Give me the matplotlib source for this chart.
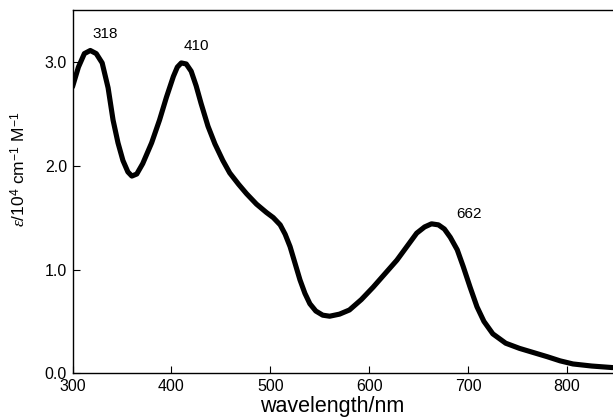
"""Absorption spectrum (epsilon vs wavelength)."""

import matplotlib
matplotlib.use("Agg")
import matplotlib.pyplot as plt

# --- data ---
wavelength_nm = [300, 306, 312, 318, 324, 330, 336, 341, 346, 351, 356, 360,
                 365, 371, 380, 388, 395, 402, 406, 410, 415, 420, 425, 430,
                 437, 444, 452, 459, 468, 476, 486, 496, 503, 510, 515, 520,
                 525, 530, 535, 540, 546, 553, 560, 570, 580, 592, 604, 616,
                 628, 638, 648, 656, 663, 670, 676, 682, 689, 695, 702, 709,
                 716, 725, 738, 752, 766, 780, 793, 806, 825, 846]
epsilon = [2.76, 2.95, 3.08, 3.11, 3.08, 2.99, 2.75, 2.44, 2.22, 2.05, 1.94, 1.90,
           1.92, 2.02, 2.22, 2.44, 2.66, 2.86, 2.95, 2.99, 2.98, 2.91, 2.77, 2.60,
           2.38, 2.21, 2.05, 1.93, 1.82, 1.73, 1.63, 1.55, 1.50, 1.43, 1.34, 1.22,
           1.06, 0.90, 0.77, 0.67, 0.60, 0.56, 0.55, 0.57, 0.61, 0.71, 0.83, 0.96,
           1.09, 1.22, 1.35, 1.41, 1.44, 1.43, 1.39, 1.31, 1.19, 1.03, 0.83, 0.64,
           0.50, 0.38, 0.29, 0.24, 0.20, 0.16, 0.12, 0.09, 0.07, 0.055]

peak_labels = ["318", "410", "662"]
peak_x = [318, 410, 662]
peak_y = [3.11, 2.99, 1.44]
# label offsets from the peak (nm, epsilon units)
label_dx = [15, 15, 39]
label_dy = [0.16, 0.16, 0.09]

FONT = ["Liberation Sans", "DejaVu Sans"]
plt.rcParams["font.family"] = FONT
plt.rcParams["mathtext.fontset"] = "custom"
plt.rcParams["mathtext.rm"] = "Liberation Sans"
plt.rcParams["mathtext.it"] = "Liberation Serif:italic"

fig = plt.figure(figsize=(6.13, 4.2), dpi=100)
ax = fig.add_axes([72.5 / 613, 1 - 373.3 / 420, 1 - 72.5 / 613, 363.3 / 420])

ax.plot(wavelength_nm, epsilon, color="black", lw=3.7,
        solid_joinstyle="round", solid_capstyle="round")

for lab, x, y, dx, dy in zip(peak_labels, peak_x, peak_y, label_dx, label_dy):
    ax.text(x + dx, y + dy, lab, ha="center", va="center", fontsize=11)

ax.set_xlim(300, 846.5)
ax.set_ylim(0, 3.5)
ax.set_xticks([300, 400, 500, 600, 700, 800])
ax.set_yticks([0, 1, 2, 3])
ax.set_yticklabels(["0.0", "1.0", "2.0", "3.0"])
ax.tick_params(direction="in", length=5, width=0.8, labelsize=11.5, pad=4)

ax.spines["right"].set_visible(False)
for s in ("left", "top", "bottom"):
    ax.spines[s].set_linewidth(1.0)

ax.set_xlabel("wavelength/nm", fontsize=15.5)
ax.xaxis.set_label_coords((332 - 72.5) / 540.5, -(396 - 373.3) / 363.3)
ax.set_ylabel(r"$\mathit{\varepsilon}$/10$^4$ cm$^{-1}$ M$^{-1}$", fontsize=12.5)
ax.yaxis.set_label_coords((28 - 72.5) / 540.5, (373.3 - 169) / 363.3)

fig.savefig("out.png", dpi=100)
